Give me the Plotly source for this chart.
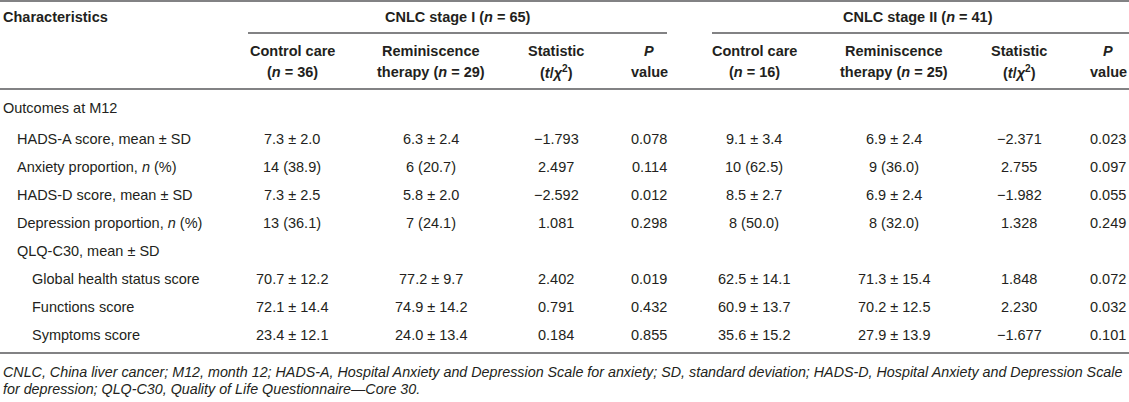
import plotly.graph_objects as go

# ---------------- data ----------------
group_titles = ["CNLC stage I (<i>n</i> = 65)", "CNLC stage II (<i>n</i> = 41)"]
col_headers = [
    ["Control care", "(<i>n</i> = 36)"],
    ["Reminiscence", "therapy (<i>n</i> = 29)"],
    ["Statistic", "(<i>t</i>/<i>χ</i><sup>2</sup>)"],
    ["<i>P</i>", "value"],
    ["Control care", "(<i>n</i> = 16)"],
    ["Reminiscence", "therapy (<i>n</i> = 25)"],
    ["Statistic", "(<i>t</i>/<i>χ</i><sup>2</sup>)"],
    ["<i>P</i>", "value"],
]
row_labels = [
    "Outcomes at M12",
    "HADS-A score, mean ± SD",
    "Anxiety proportion, <i>n</i> (%)",
    "HADS-D score, mean ± SD",
    "Depression proportion, <i>n</i> (%)",
    "QLQ-C30, mean ± SD",
    "Global health status score",
    "Functions score",
    "Symptoms score",
]
row_indent = [0, 1, 1, 1, 1, 1, 2, 2, 2]

stage1_control = ["", "7.3 ± 2.0", "14 (38.9)", "7.3 ± 2.5", "13 (36.1)", "", "70.7 ± 12.2", "72.1 ± 14.4", "23.4 ± 12.1"]
stage1_remin   = ["", "6.3 ± 2.4", "6 (20.7)", "5.8 ± 2.0", "7 (24.1)", "", "77.2 ± 9.7", "74.9 ± 14.2", "24.0 ± 13.4"]
stage1_stat    = ["", "−1.793", "2.497", "−2.592", "1.081", "", "2.402", "0.791", "0.184"]
stage1_p       = ["", "0.078", "0.114", "0.012", "0.298", "", "0.019", "0.432", "0.855"]
stage2_control = ["", "9.1 ± 3.4", "10 (62.5)", "8.5 ± 2.7", "8 (50.0)", "", "62.5 ± 14.1", "60.9 ± 13.7", "35.6 ± 15.2"]
stage2_remin   = ["", "6.9 ± 2.4", "9 (36.0)", "6.9 ± 2.4", "8 (32.0)", "", "71.3 ± 15.4", "70.2 ± 12.5", "27.9 ± 13.9"]
stage2_stat    = ["", "−2.371", "2.755", "−1.982", "1.328", "", "1.848", "2.230", "−1.677"]
stage2_p       = ["", "0.023", "0.097", "0.055", "0.249", "", "0.072", "0.032", "0.101"]

footnote_lines = [
    "CNLC, China liver cancer; M12, month 12; HADS-A, Hospital Anxiety and Depression Scale for anxiety; SD, standard deviation; HADS-D, Hospital Anxiety and Depression Scale",
    "for depression; QLQ-C30, Quality of Life Questionnaire—Core 30.",
]

# ---------------- layout ----------------
W, H = 1129, 402
FONT = "Liberation Sans, Arial, Helvetica, sans-serif"
TXT = "#231f20"
LINE = "#58595b"
FS = 14.5

col_x = [292, 431, 556, 649, 754, 894, 1019, 1108]
group_x = [458, 918]
row_y = [108, 139, 167, 195, 223, 251, 279, 307, 335]
label_x = [1, 15, 30]
foot_y = [372, 389]

columns = [stage1_control, stage1_remin, stage1_stat, stage1_p,
           stage2_control, stage2_remin, stage2_stat, stage2_p]

ann = []
def add(x, y, text, anchor="center", bold=False, italic=False, size=FS):
    t = text
    if bold:
        t = "<b>" + t + "</b>"
    if italic:
        t = "<i>" + t + "</i>"
    ann.append(dict(x=x, y=y, xref="x", yref="y", text=t, showarrow=False,
                    xanchor=anchor, yanchor="middle",
                    font=dict(family=FONT, size=size, color=TXT)))

add(1, 17, "Characteristics", anchor="left", bold=True)
for gx, gt in zip(group_x, group_titles):
    add(gx, 17, gt, bold=True)
for cx, (h1, h2) in zip(col_x, col_headers):
    add(cx, 51, h1, bold=True)
    add(cx, 72, h2, bold=True)

for i, lab in enumerate(row_labels):
    y = row_y[i]
    add(label_x[row_indent[i]], y, lab, anchor="left")
    for cx, col in zip(col_x, columns):
        if col[i]:
            add(cx, y, col[i])

for fy, fl in zip(foot_y, footnote_lines):
    add(1, fy, fl, anchor="left", italic=True, size=14.3)

shapes = [
    dict(type="line", xref="x", yref="y", x0=0, x1=W, y0=1, y1=1, line=dict(color=LINE, width=1.6)),
    dict(type="line", xref="x", yref="y", x0=248, x1=667, y0=33, y1=33, line=dict(color=LINE, width=1.6)),
    dict(type="line", xref="x", yref="y", x0=712, x1=W, y0=33, y1=33, line=dict(color=LINE, width=1.6)),
    dict(type="line", xref="x", yref="y", x0=0, x1=W, y0=89, y1=89, line=dict(color=LINE, width=1.6)),
    dict(type="line", xref="x", yref="y", x0=0, x1=W, y0=353, y1=353, line=dict(color=LINE, width=1.6)),
]

fig = go.Figure()
fig.update_layout(
    width=W, height=H,
    margin=dict(l=0, r=0, t=0, b=0),
    paper_bgcolor="white", plot_bgcolor="white",
    xaxis=dict(range=[0, W], visible=False, fixedrange=True),
    yaxis=dict(range=[H, 0], visible=False, fixedrange=True),
    annotations=ann, shapes=shapes, showlegend=False,
)
fig.write_html("out.html", config={"displayModeBar": False},
               post_script="document.body.style.margin='0';document.body.style.overflow='hidden';")
